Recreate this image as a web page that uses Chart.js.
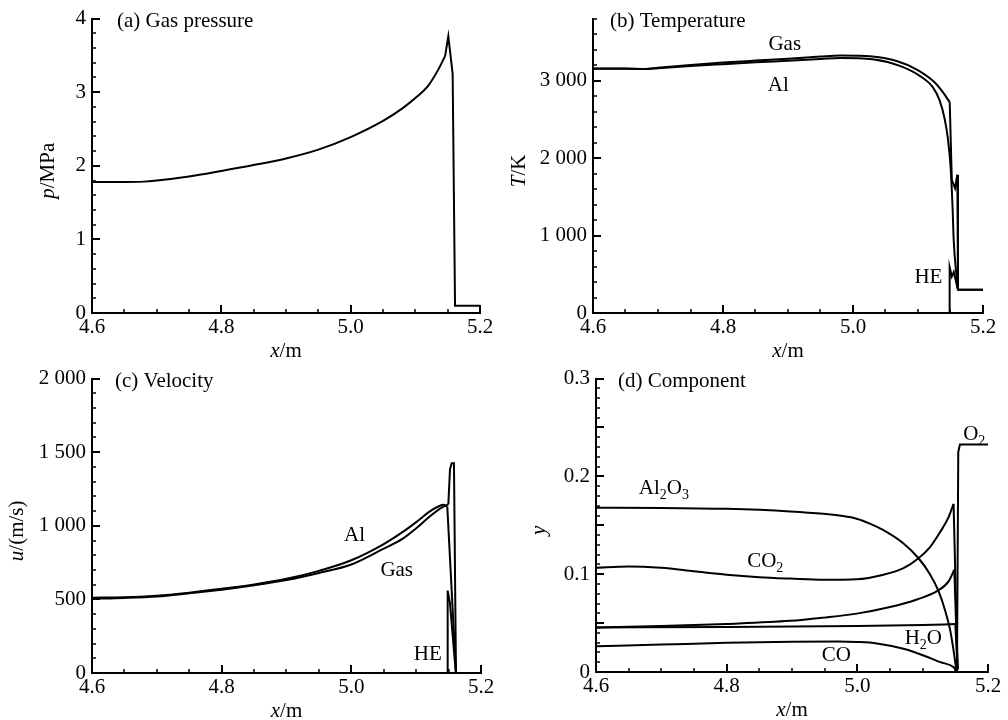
<!DOCTYPE html>
<html>
<head>
<meta charset="utf-8">
<script src="https://cdn.jsdelivr.net/npm/chart.js@4.4.1/dist/chart.umd.min.js"></script>
<style>
  html, body { margin: 0; padding: 0; background: #fff; }
  #grid { display: grid; grid-template-columns: 504px 504px; grid-template-rows: 360px 360px; width: 1008px; height: 720px; }
  canvas { display: block; }
</style>
</head>
<body>
<div id="grid">
  <canvas id="pressure" width="504" height="360"></canvas>
  <canvas id="temperature" width="504" height="360"></canvas>
  <canvas id="velocity" width="504" height="360"></canvas>
  <canvas id="component" width="504" height="360"></canvas>
</div>
<script>
//*Data
//? x axis (shared)
const xTicks = [4.6, 4.8, 5.0, 5.2];
const xTickLabels = ['4.6', '4.8', '5.0', '5.2'];

//? (a) gas pressure, MPa
const pTicks = [0, 1, 2, 3, 4];
const pTickLabels = ['0', '1', '2', '3', '4'];
const pGasX = [4.6, 4.65, 4.68, 4.7, 4.75, 4.8, 4.85, 4.9, 4.95, 5.0, 5.05, 5.08, 5.1, 5.12, 5.135, 5.146, 5.151, 5.1577, 5.1614, 5.2];
const pGas  = [1.78, 1.78, 1.785, 1.80, 1.855, 1.93, 2.01, 2.10, 2.22, 2.39, 2.61, 2.78, 2.92, 3.09, 3.30, 3.49, 3.76, 3.25, 0.1, 0.1];

//? (b) temperature, K
const tTicks = [0, 1000, 2000, 3000];
const tTickLabels = ['0', '1 000', '2 000', '3 000'];
const tGasX = [4.6, 4.65, 4.68, 4.7, 4.75, 4.8, 4.85, 4.9, 4.95, 4.98, 5.03, 5.067, 5.0975, 5.123, 5.1385, 5.1488, 5.152, 5.157, 5.1605, 5.1615, 5.2];
const tGas  = [3155, 3155, 3150, 3165, 3200, 3232, 3258, 3282, 3310, 3323, 3310, 3253, 3146, 2997, 2848, 2720, 1720, 1610, 1785, 300, 300];
const tAlX  = [4.6, 4.65, 4.68, 4.7, 4.75, 4.8, 4.85, 4.9, 4.95, 4.98, 5.03, 5.072, 5.1026, 5.123, 5.1334, 5.141, 5.146, 5.15, 5.153, 5.155, 5.159, 5.1615, 5.2];
const tAl   = [3152, 3152, 3148, 3160, 3188, 3212, 3235, 3256, 3278, 3292, 3274, 3189, 3061, 2912, 2742, 2506, 2250, 1900, 1400, 930, 500, 300, 300];
const tHeX  = [5.1487, 5.1487, 5.152, 5.155, 5.1615];
const tHe   = [0, 590, 470, 530, 300];

//? (c) velocity, m/s
const uTicks = [0, 500, 1000, 1500, 2000];
const uTickLabels = ['0', '500', '1 000', '1 500', '2 000'];
const uAlX  = [4.6, 4.65, 4.7, 4.75, 4.8, 4.85, 4.9, 4.95, 5.0, 5.05, 5.08, 5.1, 5.12, 5.135, 5.142, 5.148, 5.1614];
const uAl   = [512, 514, 525, 546, 572, 602, 640, 694, 766, 876, 960, 1025, 1095, 1133, 1143, 1130, 0];
const uGasX = [4.6, 4.65, 4.7, 4.75, 4.8, 4.85, 4.9, 4.95, 5.0, 5.05, 5.08, 5.1, 5.12, 5.14, 5.1496, 5.1522, 5.1548, 5.1583, 5.1614];
const uGas  = [505, 510, 520, 542, 566, 596, 632, 680, 737, 845, 915, 983, 1060, 1125, 1145, 1385, 1425, 1425, 0];
const uHeX  = [5.1486, 5.1486, 5.152, 5.1612];
const uHe   = [0, 560, 480, 0];

//? (d) mass fractions
const yTicks = [0, 0.1, 0.2, 0.3];
const yTickLabels = ['0', '0.1', '0.2', '0.3'];
const al2o3X = [4.6, 4.7, 4.8, 4.897, 4.948, 4.975, 4.999, 5.02, 5.04, 5.0707, 5.0937, 5.1116, 5.1243, 5.1346, 5.1423, 5.1473, 5.151, 5.1525];
const al2o3  = [0.168, 0.1678, 0.1668, 0.1642, 0.1618, 0.1597, 0.1567, 0.1515, 0.145, 0.1314, 0.1163, 0.0995, 0.0826, 0.0624, 0.0422, 0.022, 0.005, 0.001];
const co2X   = [4.6, 4.65, 4.7, 4.75, 4.8, 4.85, 4.897, 4.948, 4.999, 5.04, 5.0707, 5.0937, 5.1116, 5.127, 5.1397, 5.1473, 5.1535];
const co2    = [0.1065, 0.108, 0.1065, 0.103, 0.0995, 0.097, 0.0955, 0.0942, 0.0948, 0.0995, 0.1062, 0.1163, 0.128, 0.1433, 0.1584, 0.1719, 0.003];
const riseX  = [4.6, 4.7, 4.8, 4.897, 4.948, 4.999, 5.05, 5.0912, 5.1219, 5.1397, 5.1484, 5.1535];
const rise   = [0.0455, 0.047, 0.0492, 0.0523, 0.0556, 0.0597, 0.0664, 0.0742, 0.0826, 0.0927, 0.1045, 0.003];
const h2oX   = [4.6, 4.8, 5.0, 5.1, 5.15, 5.1535];
const h2o    = [0.0455, 0.046, 0.047, 0.048, 0.049, 0.002];
const coX    = [4.6, 4.7, 4.8, 4.9, 4.97, 5.0, 5.03, 5.0707, 5.1014, 5.127, 5.1473, 5.152];
const co     = [0.0263, 0.028, 0.0298, 0.031, 0.0312, 0.0307, 0.0292, 0.0237, 0.0169, 0.0101, 0.005, 0.001];
const o2X    = [5.1525, 5.1545, 5.157, 5.2];
const o2     = [0, 0.225, 0.2326, 0.2326];

//? curve labels (data units)
const tNotes = [{text: 'Gas', x: 4.895, y: 3480}, {text: 'Al', x: 4.885, y: 2950}, {text: 'HE', x: 5.116, y: 480}];
const uNotes = [{text: 'Al', x: 5.005, y: 947}, {text: 'Gas', x: 5.07, y: 706}, {text: 'HE', x: 5.118, y: 136}];
const yNotes = [
  {text: 'Al_2O_3', x: 4.704, y: 0.189},
  {text: 'CO_2', x: 4.859, y: 0.1147},
  {text: 'O_2', x: 5.179, y: 0.2444},
  {text: 'H_2O', x: 5.101, y: 0.0354},
  {text: 'CO', x: 4.968, y: 0.0186},
];

//*Helpers
const SERIF = '"Liberation Serif", "Times New Roman", serif';
const FS = 21;
const ALL_SMOOTH = Infinity;
const ALL_SHARP = -Infinity;

const pts = (xs, ys) => xs.map((x, i) => ({x, y: ys[i]}));

// text with *italic* parts and _n subscripts
function richText(ctx, str, x, y, align) {
  const segs = [];
  let italic = false;
  for (let i = 0; i < str.length; i++) {
    const ch = str[i];
    if (ch === '*') { italic = !italic; continue; }
    if (ch === '_') { segs.push({t: str[++i], sub: true, it: italic}); continue; }
    const last = segs[segs.length - 1];
    if (last && !last.sub && last.it === italic) last.t += ch;
    else segs.push({t: ch, sub: false, it: italic});
  }
  const fontOf = s => `${s.it ? 'italic ' : ''}${s.sub ? 14 : FS}px ${SERIF}`;
  let w = 0;
  segs.forEach(s => { ctx.font = fontOf(s); s.w = ctx.measureText(s.t).width; w += s.w; });
  let cx = align === 'left' ? x : x - w / 2;
  ctx.textAlign = 'left';
  ctx.textBaseline = 'alphabetic';
  segs.forEach(s => {
    ctx.font = fontOf(s);
    ctx.fillText(s.t, cx, y + (s.sub ? 5 : 0));
    cx += s.w;
  });
}

function drawTicks(ctx, scale, minor, major, horizontal, a) {
  const n = Math.round((scale.max - scale.min) / minor);
  for (let i = 0; i <= n; i++) {
    const v = scale.min + i * minor;
    const r = v / major;
    const isMajor = Math.abs(r - Math.round(r)) < 1e-6;
    const len = isMajor ? 8 : 4;
    const p = Math.round(scale.getPixelForValue(v));
    ctx.lineWidth = isMajor ? 2 : 1.5;
    ctx.beginPath();
    if (horizontal) { ctx.moveTo(p, a.bottom); ctx.lineTo(p, a.bottom - len); }
    else { ctx.moveTo(a.left, p); ctx.lineTo(a.left + len, p); }
    ctx.stroke();
  }
}

// inside ticks, panel title, axis titles, curve labels
const framePlugin = {
  id: 'frame',
  afterDatasetsDraw(chart, args, o) {
    const {ctx, chartArea: a, scales: {x, y}} = chart;
    ctx.save();
    ctx.strokeStyle = '#000';
    ctx.fillStyle = '#000';
    drawTicks(ctx, x, o.xMinor, o.xMajor, true, a);
    drawTicks(ctx, y, o.yMinor, o.yMajor, false, a);

    richText(ctx, o.title, a.left + o.titleDx, a.top + 8, 'left');
    richText(ctx, '*x*/m', (a.left + a.right) / 2, a.bottom + 44, 'center');

    ctx.save();
    ctx.translate(a.left + o.yTitleDx, (a.top + a.bottom) / 2 + 5);
    ctx.rotate(-Math.PI / 2);
    richText(ctx, o.yTitle, 0, 7, 'center');
    ctx.restore();

    (o.notes || []).forEach(n => {
      richText(ctx, n.text, x.getPixelForValue(n.x), y.getPixelForValue(n.y) + 7, 'center');
    });
    ctx.restore();
  }
};

const line = (data, smooth) => ({
  data, borderColor: '#000', borderWidth: 2, pointRadius: 0, fill: false,
  cubicInterpolationMode: smooth ? 'monotone' : 'default', tension: 0,
});

// smooth curve up to the shock front at xSharp, straight segments after it
function series(xs, ys, xSharp) {
  const all = pts(xs, ys);
  return [
    line(all.filter(p => p.x <= xSharp), true),
    line(all.filter(p => p.x >= xSharp), false),
  ];
}

function makeChart(id, datasets, cfg) {
  const tickFont = {family: SERIF, size: FS};
  return new Chart(document.getElementById(id), {
    type: 'line',
    data: {datasets: datasets.flat()},
    plugins: [framePlugin],
    options: {
      responsive: false,
      animation: false,
      events: [],
      layout: {padding: {left: cfg.left - 60, right: 504 - cfg.right, top: cfg.top, bottom: 360 - cfg.bottom - 30}},
      scales: {
        x: {
          type: 'linear', min: 4.6, max: 5.2,
          grid: {display: false, drawTicks: false},
          border: {display: true, color: '#000', width: 2},
          afterBuildTicks: s => { s.ticks = xTicks.map(v => ({value: v})); },
          afterFit: s => { s.height = 30; },
          ticks: {font: tickFont, color: '#000', padding: 2, maxRotation: 0,
                  callback: (v, i) => xTickLabels[i]},
        },
        y: {
          type: 'linear', min: 0, max: cfg.yMax,
          grid: {display: false, drawTicks: false},
          border: {display: true, color: '#000', width: 2},
          afterBuildTicks: s => { s.ticks = cfg.ticks.map(v => ({value: v})); },
          afterFit: s => { s.width = 60; },
          ticks: {font: tickFont, color: '#000', padding: 6,
                  callback: (v, i) => cfg.tickLabels[i]},
        },
      },
      plugins: {
        legend: {display: false},
        tooltip: {enabled: false},
        frame: cfg.frame,
      },
    },
  });
}

//*Charts
makeChart('pressure', [series(pGasX, pGas, 5.146)], {
  left: 92, right: 480, top: 15, bottom: 313, yMax: 4,
  ticks: pTicks, tickLabels: pTickLabels,
  frame: {xMinor: 0.05, xMajor: 0.2, yMinor: 0.2, yMajor: 1,
          title: '(a) Gas pressure', titleDx: 25, yTitle: '*p*/MPa', yTitleDx: -45, notes: []},
});

makeChart('temperature', [
  series(tGasX, tGas, 5.1488),
  series(tAlX, tAl, ALL_SMOOTH),
  series(tHeX, tHe, ALL_SHARP),
], {
  left: 89, right: 479, top: 15, bottom: 313, yMax: 3800,
  ticks: tTicks, tickLabels: tTickLabels,
  frame: {xMinor: 0.05, xMajor: 0.2, yMinor: 200, yMajor: 1000,
          title: '(b) Temperature', titleDx: 17, yTitle: '*T*/K', yTitleDx: -75, notes: tNotes},
});

makeChart('velocity', [
  series(uAlX, uAl, 5.148),
  series(uGasX, uGas, 5.1496),
  series(uHeX, uHe, ALL_SHARP),
], {
  left: 92, right: 481, top: 15, bottom: 313, yMax: 2000,
  ticks: uTicks, tickLabels: uTickLabels,
  frame: {xMinor: 0.05, xMajor: 0.2, yMinor: 100, yMajor: 500,
          title: '(c) Velocity', titleDx: 23, yTitle: '*u*/(m/s)', yTitleDx: -76, notes: uNotes},
});

makeChart('component', [
  series(al2o3X, al2o3, ALL_SMOOTH),
  series(co2X, co2, 5.1473),
  series(riseX, rise, 5.1484),
  series(h2oX, h2o, 5.15),
  series(coX, co, ALL_SMOOTH),
  series(o2X, o2, ALL_SHARP),
], {
  left: 92, right: 484, top: 15, bottom: 312, yMax: 0.3,
  ticks: yTicks, tickLabels: yTickLabels,
  frame: {xMinor: 0.05, xMajor: 0.2, yMinor: 0.01, yMajor: 0.05,
          title: '(d) Component', titleDx: 22, yTitle: '*y*', yTitleDx: -58, notes: yNotes},
});
</script>
</body>
</html>
